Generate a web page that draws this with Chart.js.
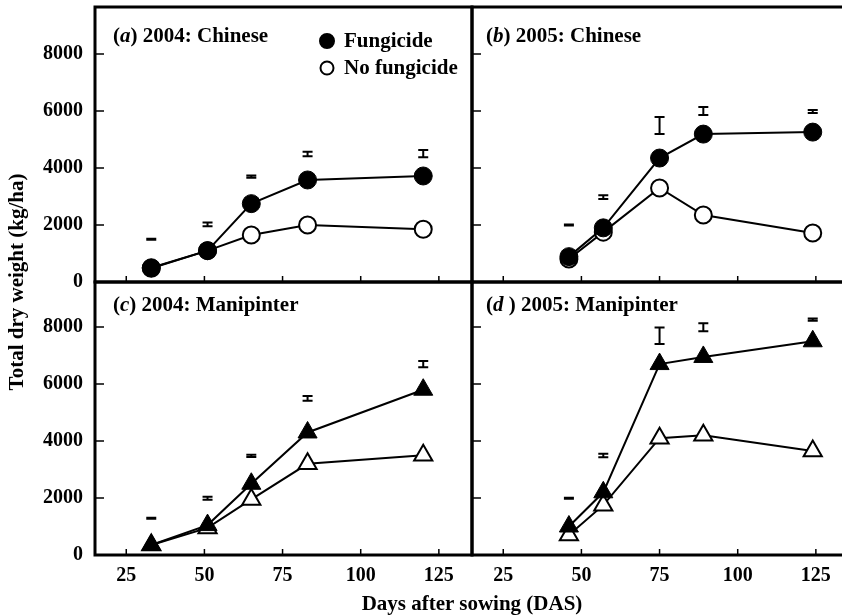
<!DOCTYPE html>
<html lang="en">
<head>
<meta charset="UTF-8">
<title>Total dry weight (kg/ha)</title>
<script src="https://cdn.jsdelivr.net/npm/chart.js"></script>
<style>
  body { margin: 0; background: #fff; overflow: hidden; }
  #wrap {
    position: relative; width: 842px; height: 615px; overflow: hidden;
    font-family: "Liberation Serif", "Times New Roman", serif; font-weight: bold; color: #000;
  }
  #wrap canvas { position: absolute; left: 0; top: 0; }
  .axis-title { position: absolute; font-size: 21px; line-height: 24px; text-align: center; white-space: nowrap; }
  #ytitle { left: -134px; top: 270px; width: 300px; transform: rotate(-90deg); }
  #xtitle { left: 272px; top: 591px; width: 400px; }
</style>
</head>
<body>
<div id="wrap">
  <canvas id="panelA"></canvas>
  <canvas id="panelB"></canvas>
  <canvas id="panelC"></canvas>
  <canvas id="panelD"></canvas>
  <div class="axis-title" id="ytitle">Total dry weight (kg/ha)</div>
  <div class="axis-title" id="xtitle">Days after sowing (DAS)</div>
</div>

<script>
const xTickValues = [25, 50, 75, 100, 125];
const yTickValues = [0, 2000, 4000, 6000, 8000];

// sampling dates, days after sowing
const days2004 = [33, 51, 65, 83, 120];
const days2005 = [46, 57, 75, 89, 124];

// (a) 2004: Chinese
const chinese2004Fungicide   = [500, 1100, 2750, 3580, 3720];
const chinese2004NoFungicide = [480, 1100, 1650, 2000, 1850];
const chinese2004BarLow  = [1480, 1960, 3660, 4410, 4380];
const chinese2004BarHigh = [1520, 2090, 3740, 4570, 4630];

// (b) 2005: Chinese
const chinese2005Fungicide   = [890, 1900, 4350, 5190, 5260];
const chinese2005NoFungicide = [810, 1750, 3300, 2350, 1720];
const chinese2005BarLow  = [1980, 2910, 5190, 5860, 5930];
const chinese2005BarHigh = [2020, 3040, 5790, 6140, 6040];

// (c) 2004: Manipinter
const manipinter2004Fungicide   = [350, 1050, 2500, 4300, 5800];
const manipinter2004NoFungicide = [350, 950, 1950, 3200, 3500];
const manipinter2004BarLow  = [1270, 1940, 3440, 5410, 6590];
const manipinter2004BarHigh = [1310, 2040, 3520, 5580, 6810];

// (d) 2005: Manipinter
const manipinter2005Fungicide   = [1000, 2200, 6700, 6950, 7500];
const manipinter2005NoFungicide = [700, 1750, 4100, 4200, 3650];
const manipinter2005BarLow  = [1970, 3430, 7400, 7850, 8220];
const manipinter2005BarHigh = [2010, 3550, 7980, 8130, 8300];

const FONT = '"Liberation Serif", "Times New Roman", serif';
const W = 880, H = 615, PANEL_W = 377;

function makePanel(canvasId, p) {
  const canvas = document.getElementById(canvasId);
  canvas.width = W;
  canvas.height = H;
  const xAxisH = p.xLabels ? 40 : 0;

  // frame, inward ticks, LSD bars, panel label and legend
  const decor = {
    id: 'decor',
    afterDatasetsDraw(chart) {
      const ctx = chart.ctx;
      const a = chart.chartArea;
      const xs = chart.scales.x, ys = chart.scales.y;
      ctx.save();
      ctx.strokeStyle = '#000';
      ctx.fillStyle = '#000';

      ctx.lineWidth = 3;
      ctx.strokeRect(a.left, a.top, a.right - a.left, a.bottom - a.top);

      ctx.lineWidth = 1.5;
      ctx.beginPath();
      xs.ticks.forEach(t => {
        const px = xs.getPixelForValue(t.value);
        ctx.moveTo(px, a.bottom);
        ctx.lineTo(px, a.bottom - 6);
      });
      ys.ticks.forEach(t => {
        const py = ys.getPixelForValue(t.value);
        ctx.moveTo(a.left, py);
        ctx.lineTo(a.left + 9, py);
      });
      ctx.stroke();

      // LSD bars
      ctx.lineWidth = 2;
      p.days.forEach((d, i) => {
        const px = xs.getPixelForValue(d);
        const y1 = ys.getPixelForValue(p.low[i]);
        const y2 = ys.getPixelForValue(p.high[i]);
        ctx.beginPath();
        ctx.moveTo(px, y1); ctx.lineTo(px, y2);
        ctx.moveTo(px - 5, y1); ctx.lineTo(px + 5, y1);
        ctx.moveTo(px - 5, y2); ctx.lineTo(px + 5, y2);
        ctx.stroke();
      });

      // panel label, letter in italics
      ctx.textBaseline = 'middle';
      let tx = p.titleX;
      p.title.forEach((part, k) => {
        ctx.font = (k === 1 ? 'italic ' : '') + 'bold 21px ' + FONT;
        ctx.fillText(part, tx, p.titleY);
        tx += ctx.measureText(part).width;
      });

      if (p.legend) {
        const ds = chart.data.datasets;
        ctx.font = 'bold 21px ' + FONT;
        [[41, 7, '#000'], [68, 6.5, '#fff']].forEach(([ly, r, fill], k) => {
          ctx.beginPath();
          ctx.arc(327, ly, r, 0, Math.PI * 2);
          ctx.fillStyle = fill;
          ctx.fill();
          ctx.lineWidth = 2;
          ctx.stroke();
          ctx.fillStyle = '#000';
          ctx.fillText(ds[k].label, 344, ly + 1);
        });
      }
      ctx.restore();
    }
  };

  const points = arr => p.days.map((d, i) => ({ x: d, y: arr[i] }));
  const tickFont = { family: FONT, size: 20, weight: 'bold' };

  return new Chart(canvas, {
    type: 'line',
    data: {
      datasets: [
        {
          label: 'Fungicide',
          data: points(p.fung),
          borderColor: '#000',
          borderWidth: 2,
          pointStyle: p.marker,
          pointRadius: p.radius,
          pointBackgroundColor: '#000',
          pointBorderColor: '#000',
          pointBorderWidth: 1
        },
        {
          label: 'No fungicide',
          data: points(p.none),
          borderColor: '#000',
          borderWidth: 2,
          pointStyle: p.marker,
          pointRadius: p.radius - 0.5,
          pointBackgroundColor: '#fff',
          pointBorderColor: '#000',
          pointBorderWidth: 2
        }
      ]
    },
    options: {
      responsive: false,
      animation: false,
      devicePixelRatio: 1,
      layout: {
        autoPadding: false,
        padding: { left: 0, top: p.top, right: W - p.left - PANEL_W, bottom: H - p.bottom - xAxisH }
      },
      plugins: { legend: { display: false }, tooltip: { enabled: false } },
      scales: {
        x: {
          type: 'linear',
          min: 15,
          max: 135.6,
          afterBuildTicks: s => { s.ticks = xTickValues.map(v => ({ value: v })); },
          afterFit: s => {
            s.height = xAxisH;
            s.paddingLeft = s.paddingRight = 0;
          },
          grid: { display: false },
          border: { display: false },
          ticks: { display: p.xLabels, padding: 1, color: '#000', font: tickFont }
        },
        y: {
          min: 0,
          max: p.yMax,
          afterBuildTicks: s => { s.ticks = yTickValues.map(v => ({ value: v })); },
          afterFit: s => {
            s.width = p.left;
            s.paddingTop = s.paddingBottom = 0;
          },
          grid: { display: false },
          border: { display: false },
          ticks: {
            display: p.yLabels, padding: 4, color: '#000', font: tickFont,
            callback: v => String(v)
          }
        }
      }
    },
    plugins: [decor]
  });
}

makePanel('panelA', {
  days: days2004, fung: chinese2004Fungicide, none: chinese2004NoFungicide,
  low: chinese2004BarLow, high: chinese2004BarHigh,
  title: ['(', 'a', ') 2004: Chinese'], titleX: 113, titleY: 37, legend: true,
  marker: 'circle', radius: 9,
  left: 95, top: 7, bottom: 282, yMax: 9650, xLabels: false, yLabels: true
});
makePanel('panelB', {
  days: days2005, fung: chinese2005Fungicide, none: chinese2005NoFungicide,
  low: chinese2005BarLow, high: chinese2005BarHigh,
  title: ['(', 'b', ') 2005: Chinese'], titleX: 486, titleY: 37, legend: false,
  marker: 'circle', radius: 9,
  left: 472, top: 7, bottom: 282, yMax: 9650, xLabels: false, yLabels: false
});
makePanel('panelC', {
  days: days2004, fung: manipinter2004Fungicide, none: manipinter2004NoFungicide,
  low: manipinter2004BarLow, high: manipinter2004BarHigh,
  title: ['(', 'c', ') 2004: Manipinter'], titleX: 113, titleY: 306, legend: false,
  marker: 'triangle', radius: 11,
  left: 95, top: 282, bottom: 555, yMax: 9580, xLabels: true, yLabels: true
});
makePanel('panelD', {
  days: days2005, fung: manipinter2005Fungicide, none: manipinter2005NoFungicide,
  low: manipinter2005BarLow, high: manipinter2005BarHigh,
  title: ['(', 'd', ' ) 2005: Manipinter'], titleX: 486, titleY: 306, legend: false,
  marker: 'triangle', radius: 11,
  left: 472, top: 282, bottom: 555, yMax: 9580, xLabels: true, yLabels: false
});
</script>
</body>
</html>
